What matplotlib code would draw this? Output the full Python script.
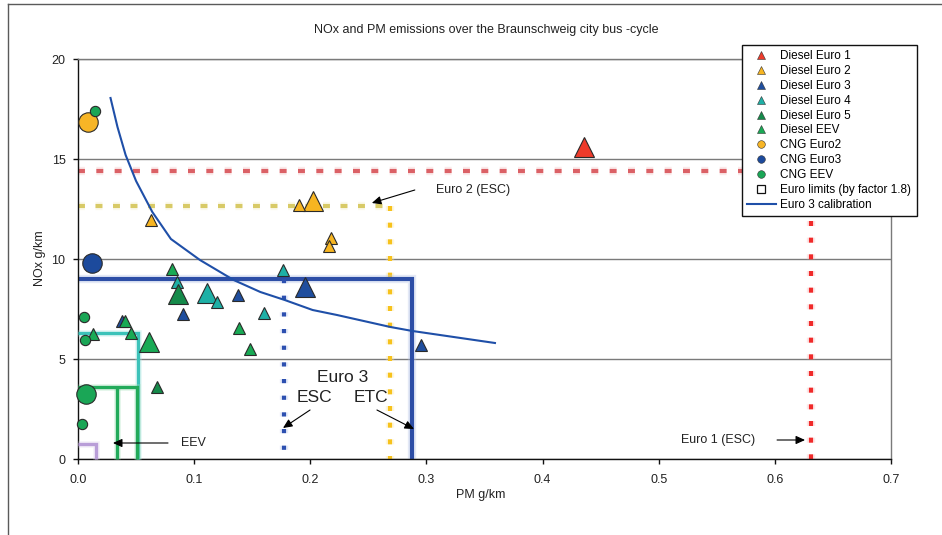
import numpy as np
import matplotlib
matplotlib.use("Agg")
import matplotlib.pyplot as plt
from matplotlib.lines import Line2D

plt.rcParams["font.family"] = ["Liberation Sans", "DejaVu Sans"]
plt.rcParams["lines.scale_dashes"] = False

# ---- measured bus emissions (PM g/km, NOx g/km) ----
diesel_euro1_pm = [0.436]
diesel_euro1_nox = [15.58]

diesel_euro2_pm = [0.063, 0.190, 0.202, 0.218, 0.216]
diesel_euro2_nox = [11.95, 12.70, 12.90, 11.05, 10.65]

diesel_euro3_pm = [0.1955, 0.295, 0.138, 0.090, 0.038]
diesel_euro3_nox = [8.60, 5.70, 8.20, 7.25, 6.90]

diesel_euro4_pm = [0.1765, 0.085, 0.111, 0.120, 0.160]
diesel_euro4_nox = [9.45, 8.85, 8.30, 7.85, 7.30]

diesel_euro5_pm = [0.086, 0.068]
diesel_euro5_nox = [8.25, 3.60]

diesel_eev_pm = [0.081, 0.0405, 0.0456, 0.061, 0.013, 0.1386, 0.148]
diesel_eev_nox = [9.50, 6.90, 6.30, 5.85, 6.25, 6.55, 5.50]

cng_euro2_pm = [0.0086]
cng_euro2_nox = [16.85]

cng_euro3_pm = [0.012]
cng_euro3_nox = [9.80]

cng_eev_pm = [0.0146, 0.0052, 0.006, 0.0069, 0.0034]
cng_eev_nox = [17.40, 7.10, 5.95, 3.25, 1.75]

# fleet-average points are drawn with the larger symbol (index into each series)
average_points = {
    "Diesel Euro 1": [0],
    "Diesel Euro 2": [2],
    "Diesel Euro 3": [0],
    "Diesel Euro 4": [2],
    "Diesel Euro 5": [0],
    "Diesel EEV": [3],
    "CNG Euro2": [0],
    "CNG Euro3": [0],
    "CNG EEV": [3],
}

# ---- Euro 3 calibration curve ----
calib_pm = [0.028, 0.034, 0.041, 0.050, 0.064, 0.080, 0.105, 0.134, 0.157,
            0.178, 0.202, 0.223, 0.269, 0.288, 0.359]
calib_nox = [18.05, 16.6, 15.2, 13.9, 12.35, 11.0, 9.95, 8.95, 8.35,
             7.95, 7.45, 7.20, 6.60, 6.40, 5.80]

# ---- Euro limits (by factor 1.8) ----
euro1_nox, euro1_pm = 14.4, 0.631
euro2_nox, euro2_pm = 12.65, 0.269
euro3_nox, euro3_pm_etc, euro3_pm_esc = 9.0, 0.2874, 0.1777
euro4_nox, euro4_pm = 6.3, 0.0514
euro5_nox, euro5_pm_a, euro5_pm_b = 3.6, 0.034, 0.0505
eev_nox, eev_pm = 0.73, 0.0155

x_ticks = [0.0, 0.1, 0.2, 0.3, 0.4, 0.5, 0.6, 0.7]
x_tick_labels = ["0.0", "0.1", "0.2", "0.3", "0.4", "0.5", "0.6", "0.7"]
y_ticks = [0, 5, 10, 15, 20]

W, H = 942, 535
fig = plt.figure(figsize=(W / 100, H / 100), dpi=100)
fig.patch.set_facecolor("white")

# outer frame of the figure
fig.add_artist(Line2D([8 / W, 8 / W], [0, 1 - 3.5 / H], transform=fig.transFigure,
                      color="#5a5a5a", lw=1.0))
fig.add_artist(Line2D([8 / W, 1], [1 - 3.5 / H, 1 - 3.5 / H], transform=fig.transFigure,
                      color="#5a5a5a", lw=1.0))

ax = fig.add_axes([78 / W, 1 - 459 / H, (891 - 78) / W, (459 - 59) / H])
ax.set_xlim(0, 0.7)
ax.set_ylim(0, 20)
ax.set_xticks(x_ticks)
ax.set_xticklabels(x_tick_labels)
ax.set_yticks(y_ticks)
ax.yaxis.grid(True, color="#7a7a7a", lw=1.0)
ax.set_axisbelow(True)
for side in ("left", "bottom"):
    ax.spines[side].set_color("#111111")
    ax.spines[side].set_linewidth(1.0)
for side in ("right", "top"):
    ax.spines[side].set_color("#7a7a7a")
    ax.spines[side].set_linewidth(1.0)
ax.tick_params(axis="both", direction="out", length=3.5, width=1.0,
               labelsize=9, colors="#111111", labelcolor="#222222")
ax.tick_params(axis="y", pad=5.5)
ax.tick_params(axis="x", pad=7)


def limit_line(xs, ys, color, halo, lw, dashes=None, z=2):
    kw = dict(solid_capstyle="butt", dash_capstyle="butt",
              solid_joinstyle="miter", clip_on=False)
    if dashes is not None:
        kw["dashes"] = dashes
    ax.plot(xs, ys, color=halo, lw=lw * 2.0, alpha=0.35, zorder=z, **kw)
    ax.plot(xs, ys, color=color, lw=lw, zorder=z + 0.1, **kw)


# Euro 1
limit_line([0, euro1_pm], [euro1_nox, euro1_nox], "#db6166", "#f6c4c4", 3.0, (5, 8.2), z=2)
limit_line([euro1_pm, euro1_pm], [euro1_nox, 0], "#f02a2a", "#f8b8b8", 3.0, (3.6, 8.4), z=2)
# Euro 2
limit_line([0, euro2_pm], [euro2_nox, euro2_nox], "#d8ca66", "#f6f0c4", 3.0, (5, 7.6), z=2.2)
limit_line([euro2_pm, euro2_pm], [euro2_nox, 0], "#f7c21c", "#fbe6a6", 3.0, (3.6, 8.4), z=2.2)
# Euro 3 (ETC solid, ESC dotted)
limit_line([0, euro3_pm_etc, euro3_pm_etc], [euro3_nox, euro3_nox, 0],
           "#2d4ea6", "#b4c2e6", 3.0, None, z=2.4)
limit_line([euro3_pm_esc, euro3_pm_esc], [euro3_nox, 0], "#2d50b0", "#bccaf0", 3.0,
           (3.0, 9.0), z=2.4)
# Euro 4
limit_line([0, euro4_pm, euro4_pm], [euro4_nox, euro4_nox, 0],
           "#3cc2b9", "#b2e8e4", 2.4, None, z=2.6)
# Euro 5
limit_line([0, euro5_pm_b, euro5_pm_b], [euro5_nox, euro5_nox, 0],
           "#22aa5a", "#a8e0bc", 2.4, None, z=2.8)
limit_line([euro5_pm_a, euro5_pm_a], [euro5_nox, 0], "#22aa5a", "#a8e0bc", 2.4, None, z=2.8)
# EEV
limit_line([0, eev_pm, eev_pm], [eev_nox, eev_nox, 0], "#b99ed8", "#e2d6f0", 2.4, None, z=3)

# calibration curve
calib_color = "#1f4fa8"
ax.plot(calib_pm, calib_nox, color=calib_color, lw=1.5, zorder=4)

# scatter series
series = [
    ("Diesel Euro 1", diesel_euro1_pm, diesel_euro1_nox, "^", "#ee3b2b"),
    ("Diesel Euro 2", diesel_euro2_pm, diesel_euro2_nox, "^", "#f7b521"),
    ("Diesel Euro 3", diesel_euro3_pm, diesel_euro3_nox, "^", "#1f4e9e"),
    ("Diesel Euro 4", diesel_euro4_pm, diesel_euro4_nox, "^", "#1eb0a6"),
    ("Diesel Euro 5", diesel_euro5_pm, diesel_euro5_nox, "^", "#158a4a"),
    ("Diesel EEV", diesel_eev_pm, diesel_eev_nox, "^", "#19aa55"),
    ("CNG Euro2", cng_euro2_pm, cng_euro2_nox, "o", "#f7b526"),
    ("CNG Euro3", cng_euro3_pm, cng_euro3_nox, "o", "#1c4a9c"),
    ("CNG EEV", cng_eev_pm, cng_eev_nox, "o", "#1aa656"),
]
small_size = {"^": 9.0, "o": 7.4}
large_size = {"^": 14.5, "o": 14.0}

for zi, (name, xs, ys, mk, col) in enumerate(series):
    for i, (x, y) in enumerate(zip(xs, ys)):
        big = i in average_points[name]
        ax.plot([x], [y], linestyle="none", marker=mk, color=col,
                markersize=large_size[mk] if big else small_size[mk],
                markeredgecolor="#2a2a2a", markeredgewidth=0.8,
                zorder=5 + zi * 0.1 + (0 if big else 0.05), clip_on=False)

# annotations
arrow = dict(arrowstyle="-|>,head_length=0.55,head_width=0.25", color="black",
             lw=0.8, shrinkA=0, shrinkB=0)
ax.text(0.340, 13.43, "Euro 2 (ESC)", fontsize=9, ha="center", va="center", color="#222")
ax.annotate("", xy=(0.253, 12.8), xytext=(0.290, 13.45), arrowprops=arrow, zorder=6)

ax.text(0.228, 4.05, "Euro 3", fontsize=12.5, ha="center", va="center", color="#222")
ax.text(0.204, 3.05, "ESC", fontsize=12.5, ha="center", va="center", color="#222")
ax.text(0.252, 3.05, "ETC", fontsize=12.5, ha="center", va="center", color="#222")
ax.annotate("", xy=(0.1765, 1.55), xytext=(0.1998, 2.45), arrowprops=arrow, zorder=6)
ax.annotate("", xy=(0.2893, 1.5), xytext=(0.2574, 2.45), arrowprops=arrow, zorder=6)

ax.text(0.099, 0.8, "EEV", fontsize=9, ha="center", va="center", color="#222")
ax.annotate("", xy=(0.0301, 0.8), xytext=(0.0775, 0.8), arrowprops=arrow, zorder=6)

ax.text(0.5515, 0.95, "Euro 1 (ESC)", fontsize=9, ha="center", va="center", color="#222")
ax.annotate("", xy=(0.626, 0.95), xytext=(0.6019, 0.95), arrowprops=arrow, zorder=6)

# titles and axis labels
fig.text(486 / W, 1 - 30.5 / H, "NOx and PM emissions over the Braunschweig city bus -cycle",
         ha="center", va="center", fontsize=9, color="#222")
fig.text(481 / W, 1 - 495 / H, "PM g/km", ha="center", va="center", fontsize=9, color="#222")
fig.text(40 / W, 1 - 258 / H, "NOx g/km", ha="center", va="center", fontsize=9,
         rotation=90, color="#222")

# legend
handles = []
labels = []
for name, xs, ys, mk, col in series:
    handles.append(Line2D([], [], linestyle="none", marker=mk, color=col,
                          markersize=5.5 if mk == "^" else 5.5,
                          markeredgecolor="#333333", markeredgewidth=0.4))
    labels.append(name)
handles.append(Line2D([], [], linestyle="none", marker="s", markerfacecolor="white",
                      markeredgecolor="#111111", markersize=5.5, markeredgewidth=0.9))
labels.append("Euro limits (by factor 1.8)")
handles.append(Line2D([], [], color=calib_color, lw=1.5))
labels.append("Euro 3 calibration")

leg = fig.legend(handles, labels, loc="upper left",
                 bbox_to_anchor=(742 / W, 1 - 45 / H), bbox_transform=fig.transFigure,
                 frameon=True, fancybox=False, edgecolor="#111111", framealpha=1,
                 fontsize=8.5, borderpad=0.45, labelspacing=0.24, handlelength=2.4,
                 handletextpad=0.4, borderaxespad=0)
leg.get_frame().set_linewidth(1.0)
leg.set_zorder(10)

fig.savefig("out.png", dpi=100, facecolor="white")
